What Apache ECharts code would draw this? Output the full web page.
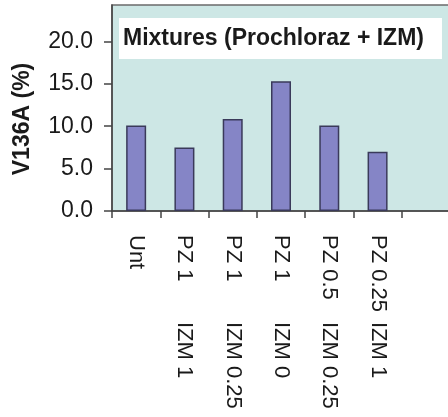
<!DOCTYPE html>
<html>
<head>
<meta charset="utf-8">
<style>
  html, body { margin: 0; padding: 0; background: #ffffff; }
  #chart { width: 448px; height: 417px; }
</style>
<script src="https://cdn.jsdelivr.net/npm/echarts@6/dist/echarts.min.js"></script>
</head>
<body>
<div id="chart"></div>
<script>
// Treatment groups: prochloraz dose (PZ) and IZM dose, plus the untreated control
const pzLabels  = ['Unt', 'PZ 1', 'PZ 1', 'PZ 1', 'PZ 0.5', 'PZ 0.25', ''];
const izmLabels = ['', 'IZM 1', 'IZM 0.25', 'IZM 0', 'IZM 0.25', 'IZM 1', ''];
const categories = pzLabels.map((p, i) => (p + ' ' + izmLabels[i]).trim());
// V136A frequency (%) for each group
const values = [10.1, 7.5, 10.85, 15.3, 10.1, 7.0, null];
const yTicks = [0, 5, 10, 15, 20];

const font = '"Liberation Sans", Arial, sans-serif';
const chart = echarts.init(document.getElementById('chart'), null, { renderer: 'canvas' });

chart.setOption({
  animation: false,
  backgroundColor: '#ffffff',
  title: {
    text: 'Mixtures (Prochloraz + IZM)',
    left: 119,
    top: 18,
    backgroundColor: '#ffffff',
    padding: [9, 18, 9, 4],
    textStyle: { fontFamily: font, fontSize: 23, fontWeight: 'bold', color: '#1a1a1a' }
  },
  grid: {
    left: 112, top: 5, width: 338, height: 206,
    outerBoundsMode: 'none',
    containLabel: false,
    show: true,
    backgroundColor: '#cde7e5',
    borderColor: '#6b6b6b',
    borderWidth: 1.5
  },
  xAxis: {
    type: 'category',
    data: categories,
    axisLine: { show: true, lineStyle: { color: '#444', width: 1.5 } },
    axisTick: { show: true, length: 7, lineStyle: { color: '#444', width: 1.5 } },
    axisLabel: {
      rotate: -90,
      margin: 24,
      interval: 0,
      fontFamily: font,
      fontSize: 22,
      color: '#1a1a1a',
      formatter: (v, i) => '{a|' + pzLabels[i] + '}{b|' + izmLabels[i] + '}',
      rich: {
        a: { width: 87, fontFamily: font, fontSize: 22, color: '#1a1a1a' },
        b: { fontFamily: font, fontSize: 22, color: '#1a1a1a' }
      }
    }
  },
  yAxis: {
    type: 'value',
    min: 0,
    max: 24.3,
    name: 'V136A (%)',
    nameLocation: 'middle',
    nameRotate: 90,
    nameGap: 78,
    nameTextStyle: {
      fontFamily: font, fontSize: 23, fontWeight: 'bold', color: '#1a1a1a',
      padding: [0, 22, 0, 0]
    },
    splitLine: { show: false },
    axisLine: { show: true, lineStyle: { color: '#444', width: 1.5 } },
    axisTick: { show: true, length: 8, customValues: yTicks, lineStyle: { color: '#444', width: 1.5 } },
    axisLabel: {
      customValues: yTicks,
      margin: 19,
      fontFamily: font,
      fontSize: 23,
      color: '#1a1a1a',
      formatter: v => v.toFixed(1)
    }
  },
  series: [{
    type: 'bar',
    data: values,
    barWidth: 20,
    itemStyle: { color: '#8585c6', borderColor: '#3a3a5a', borderWidth: 1.5 }
  }]
});
</script>
</body>
</html>
